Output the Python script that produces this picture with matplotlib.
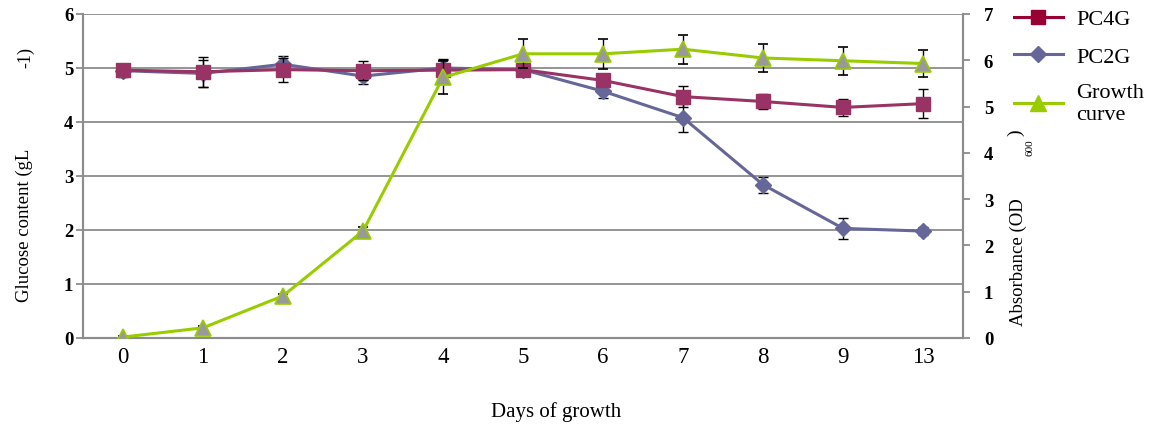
import matplotlib
matplotlib.use("Agg")
import matplotlib.pyplot as plt
import numpy as np
from matplotlib.lines import Line2D

days = ["0", "1", "2", "3", "4", "5", "6", "7", "8", "9", "13"]
pc4g = [4.96, 4.93, 4.97, 4.95, 4.96, 4.97, 4.77, 4.47, 4.38, 4.27, 4.34]
pc4g_err = [0.12, 0.28, 0.22, 0.18, 0.20, 0.12, 0.10, 0.20, 0.14, 0.16, 0.27]
pc2g = [4.95, 4.90, 5.07, 4.85, 5.00, 4.97, 4.57, 4.08, 2.84, 2.03, 1.98]
pc2g_err = [0.10, 0.25, 0.15, 0.15, 0.15, 0.10, 0.12, 0.26, 0.15, 0.20, 0.08]
growth = [0.02, 0.22, 0.91, 2.31, 5.63, 6.14, 6.14, 6.24, 6.05, 5.99, 5.93]
growth_err = [0.02, 0.03, 0.03, 0.08, 0.35, 0.31, 0.32, 0.31, 0.30, 0.30, 0.29]

c4 = "#993366"
c2 = "#666699"
cg = "#99cc00"
grid_c = "#8c8c8c"
serif = ["Liberation Serif", "DejaVu Serif"]

fig = plt.figure(figsize=(11.5, 4.31), dpi=100)
ax = fig.add_axes([83/1150, 1-339/431, (963-83)/1150, (339-15)/431])
ax2 = ax.twinx()

x = np.arange(len(days))

ax.errorbar(x, pc2g, yerr=pc2g_err, color=c2, lw=2.2, marker="D", ms=8.5,
            mfc=c2, mec=c2, ecolor="black", elinewidth=1, capsize=3.5, capthick=1, zorder=3)
ax.errorbar(x, pc4g, yerr=pc4g_err, color=c4, lw=2.2, marker="s", ms=10,
            mfc=c4, mec=c4, ecolor="black", elinewidth=1, capsize=3.5, capthick=1, zorder=4)
ax2.errorbar(x, growth, yerr=growth_err, color=cg, lw=2.2, marker="^", ms=11,
             mfc="#999999", mec=cg, mew=1.2, ecolor="black", elinewidth=1,
             capsize=3.5, capthick=1, zorder=3)

ax.set_xlim(-0.5, len(days) - 0.5)
ax.set_ylim(0, 6)
ax2.set_ylim(0, 7)
ax.set_yticks(range(0, 7))
ax2.set_yticks(range(0, 8))
ax.set_xticks(x)
ax.set_xticklabels(days, fontfamily=serif, fontsize=16.5)

for lab in ax.get_yticklabels():
    lab.set_fontfamily(serif); lab.set_fontweight("bold"); lab.set_fontsize(13.5)
for lab in ax2.get_yticklabels():
    lab.set_fontfamily(serif); lab.set_fontweight("bold"); lab.set_fontsize(13.5)

ax.yaxis.grid(True, color=grid_c, lw=1.3)
ax.set_axisbelow(True)
for a in (ax, ax2):
    a.spines["top"].set_visible(False)
    for s in ("left", "right", "bottom"):
        a.spines[s].set_color(grid_c)
        a.spines[s].set_linewidth(1.5)
ax.tick_params(axis="y", direction="out", length=5, width=1.3, color=grid_c, pad=2)
ax2.tick_params(axis="y", direction="out", length=5, width=1.3, color=grid_c, pad=10)
ax.tick_params(axis="x", length=0, pad=6)

# axis labels
fig.text(556/1150, 1-412/431, "Days of growth", fontfamily=serif, fontsize=15,
         ha="center", va="center")
fig.text(24/1150, 1-225/431, "Glucose content (gL", fontfamily=serif, fontsize=13.5,
         rotation=90, ha="center", va="center")
fig.text(26/1150, 1-57/431, "-1)", fontfamily=serif, fontsize=13,
         rotation=90, ha="center", va="center")
fig.text(1018/1150, 1-262/431, "Absorbance (OD", fontfamily=serif, fontsize=13.5,
         rotation=90, ha="center", va="center")
fig.text(1016/1150, 1-133/431, ")", fontfamily=serif, fontsize=14,
         rotation=90, ha="center", va="center")
fig.text(1030/1150, 1-148/431, "600", fontfamily=serif, fontsize=8,
         rotation=90, ha="center", va="center")

handles = [
    Line2D([0], [0], color="#990033", lw=2.2, marker="s", ms=10, mfc="#990033", mec="#990033"),
    Line2D([0], [0], color=c2, lw=2.2, marker="D", ms=8.5, mfc=c2, mec=c2),
    Line2D([0], [0], color=cg, lw=2.2, marker="^", ms=11, mfc=cg, mec=cg),
]
leg = fig.legend(handles, ["PC4G", "PC2G", "Growth\ncurve"], loc="upper left",
                 bbox_to_anchor=(1005/1150, 1-1/431), frameon=False,
                 prop={"family": serif, "size": 16}, handlelength=2.2,
                 labelspacing=0.75, handletextpad=0.6, borderaxespad=0)

fig.savefig("out.png", dpi=100)
